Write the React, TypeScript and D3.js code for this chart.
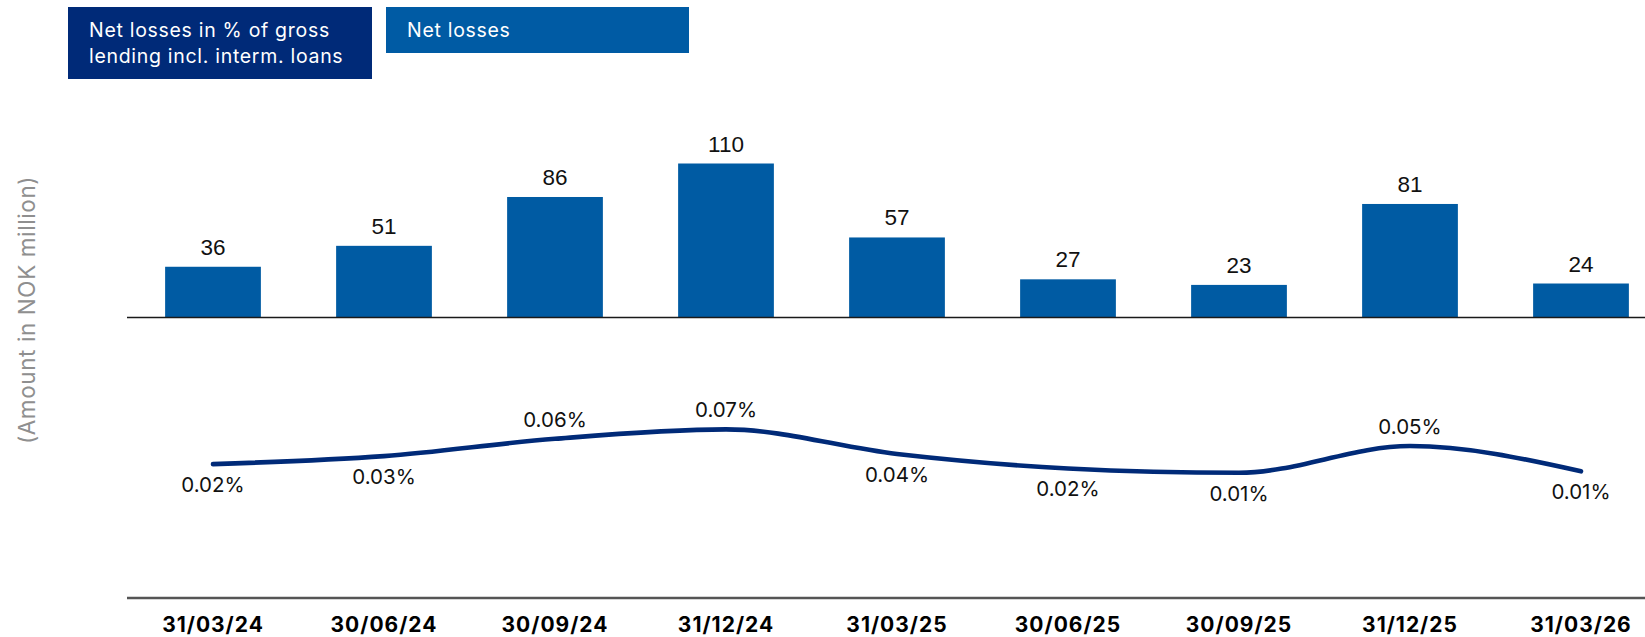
import React, { useEffect, useRef } from "react";
import * as d3 from "d3";

const quarters = ["31/03/24", "30/06/24", "30/09/24", "31/12/24", "31/03/25", "30/06/25", "30/09/25", "31/12/25", "31/03/26"];
const netLosses = [36, 51, 86, 110, 57, 27, 23, 81, 24];
const lossPct = [0.022, 0.033, 0.057, 0.07, 0.036, 0.016, 0.01, 0.047, 0.012];
const legendItems = [
  { lines: ["Net losses in % of gross", "lending incl. interm. loans"], color: "#002a78" },
  { lines: ["Net losses"], color: "#005ba4" },
];

export default function App() {
  const ref = useRef<SVGSVGElement>(null);

  useEffect(() => {
    document.body.style.margin = "0";
    const svg = d3.select(ref.current);
    svg.selectAll("*").remove();

    const W = 1645;
    const font = "Inter, 'Open Sans', sans-serif";

    const x = d3.scaleBand().domain(quarters).range([127.5, 127.5 + 171 * 9]).paddingInner(0.44).paddingOuter(0.22);
    const yBar = d3.scaleLinear().domain([0, 110]).range([317, 163.5]);
    const yPct = d3.scaleLinear().domain([0, 0.07]).range([480, 429.4]);
    const cx = (d: string) => (x(d) as number) + x.bandwidth() / 2;

    // legend boxes
    const boxes = [
      { x: 68, w: 304, h: 72 },
      { x: 386, w: 303, h: 46 },
    ];
    legendItems.forEach((item, i) => {
      const g = svg.append("g");
      g.append("rect").attr("x", boxes[i].x).attr("y", 7).attr("width", boxes[i].w).attr("height", boxes[i].h).attr("fill", item.color);
      item.lines.forEach((l, j) => {
        g.append("text")
          .attr("x", boxes[i].x + 21)
          .attr("y", 36.5 + j * 26.5)
          .attr("fill", "#fff")
          .attr("font-family", font)
          .attr("font-size", 19.5)
          .attr("letter-spacing", 0.7)
          .text(l);
      });
    });

    // y title
    svg
      .append("text")
      .attr("transform", "translate(35,310) rotate(-90)")
      .attr("text-anchor", "middle")
      .attr("fill", "#8f8f8f")
      .attr("font-family", font)
      .attr("font-size", 22.5)
      .attr("letter-spacing", 0.6)
      .text("(Amount in NOK million)");

    // bars
    svg
      .append("g")
      .selectAll("rect")
      .data(netLosses)
      .join("rect")
      .attr("x", (d, i) => x(quarters[i]) as number)
      .attr("y", (d) => yBar(d))
      .attr("width", x.bandwidth())
      .attr("height", (d) => yBar(0) - yBar(d))
      .attr("fill", "#005ba3");

    svg
      .append("g")
      .selectAll("text")
      .data(netLosses)
      .join("text")
      .attr("x", (d, i) => cx(quarters[i]))
      .attr("y", (d) => yBar(d) - 12)
      .attr("text-anchor", "middle")
      .attr("font-family", "'Liberation Sans', Arial, sans-serif")
      .attr("font-size", 22.5)
      .attr("fill", "#111")
      .text((d) => d);

    svg.append("line").attr("x1", 127).attr("x2", W).attr("y1", yBar(0) + 0.5).attr("y2", yBar(0) + 0.5).attr("stroke", "#1a1a1a").attr("stroke-width", 1.5);

    // percentage line
    const line = d3
      .line<number>()
      .x((d, i) => cx(quarters[i]))
      .y((d) => yPct(d))
      .curve(d3.curveMonotoneX);
    svg
      .append("path")
      .attr("d", line(lossPct))
      .attr("fill", "none")
      .attr("stroke", "#002a78")
      .attr("stroke-width", 4.6)
      .attr("stroke-linecap", "round");

    svg
      .append("g")
      .selectAll("text")
      .data(lossPct)
      .join("text")
      .attr("x", (d, i) => cx(quarters[i]))
      .attr("y", (d) => (d > 0.045 ? yPct(d) - 12 : yPct(d) + 28))
      .attr("text-anchor", "middle")
      .attr("font-family", font)
      .attr("font-size", 20.5)
      .attr("fill", "#111")
      .text((d) => d.toFixed(2) + "%");

    // x axis
    const ax = svg
      .append("g")
      .attr("transform", "translate(0,598)")
      .call(d3.axisBottom(x).tickSize(0).tickPadding(0));
    ax.select(".domain").attr("d", `M127,0H${W}`).attr("stroke", "#555").attr("stroke-width", 2.5);
    ax.selectAll("text")
      .attr("y", 34)
      .attr("dy", 0)
      .attr("font-family", font)
      .attr("font-size", 21)
      .attr("font-weight", 700)
      .attr("letter-spacing", 1)
      .attr("fill", "#000");
  }, []);

  return <svg ref={ref} width={1645} height={637} style={{ display: "block" }}></svg>;
}
